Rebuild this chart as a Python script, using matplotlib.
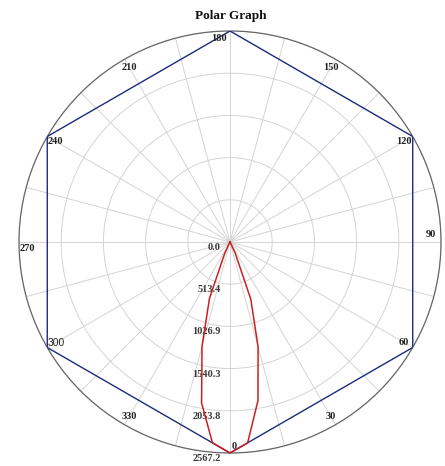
import numpy as np
import matplotlib.pyplot as plt

# luminous intensity values (cd)
beam_angle = [-35, -30, -25, -20, -15, -10, -5, 0, 5, 10, 15, 20, 25, 30, 35]
beam_cd = [0, 15, 150, 730, 1315, 1990, 2452, 2567.2, 2455, 1960, 1320, 740, 150, 15, 0]

hex_angle = [0, 60, 120, 180, 240, 300, 360]
hex_cd = [2567.2, 2567.2, 2567.2, 2567.2, 2567.2, 2567.2, 2567.2]

ring_vals = [0.0, 513.4, 1026.9, 1540.3, 2053.8, 2567.2]
ring_labels = ["0.0", "513.4", "1026.9", "1540.3", "2053.8", "2567.2"]
angle_ticks = [0, 30, 60, 90, 120, 150, 180, 210, 240, 270, 300, 330]
angle_labels = ["0", "30", "60", "90", "120", "150", "180", "210", "240", "270", "300", "330"]

rmax = ring_vals[-1]

fig = plt.figure(figsize=(4.45, 4.66), dpi=100)
ax = fig.add_axes([0.0427, 0.0279, 0.9483, 0.9056], projection='polar')
ax.set_theta_zero_location('S')
ax.set_theta_direction(1)
ax.set_ylim(0, rmax)

ax.set_thetagrids(np.arange(0, 360, 15), labels=[])
ax.set_rgrids(ring_vals[1:], labels=[])
ax.grid(True, color='#d4d4d4', lw=0.7)
ax.spines['polar'].set_color('#666666')
ax.spines['polar'].set_linewidth(0.9)

ax.plot(np.radians(hex_angle), hex_cd, color='#1c2a7c', lw=1.0, zorder=3)
ax.plot(np.radians(beam_angle), beam_cd, color='#cc2020', lw=1.1, zorder=4)

lab_font = dict(family='Liberation Serif', fontsize=7.5, fontweight='bold', color='#222222')

# ring values along the 0 degree direction
for v, s in zip(ring_vals, ring_labels):
    ax.annotate(s, xy=(0, v), xytext=(-6.5, -4.0), textcoords='offset points',
                ha='right', va='center', color='#3a3a3a',
                family='Liberation Serif', fontsize=7.5, fontweight='bold')

# angle labels, small nudges in pixels
nudge = {0: (4, -3), 90: (0, 7), 180: (-11.5, 2.5), 270: (-2, -7)}
px = 72 / 100
for a, s in zip(angle_ticks, angle_labels):
    dx, dy = nudge.get(a, (0, 0))
    if s == "300":
        ax.annotate(s, xy=(np.radians(a), 0.953 * rmax), xytext=(dx * px, dy * px),
                    textcoords='offset points', ha='center', va='center',
                    family='Liberation Sans', fontsize=7.5, color='#222222')
    else:
        ax.annotate(s, xy=(np.radians(a), 0.953 * rmax), xytext=(dx * px, dy * px),
                    textcoords='offset points', ha='center', va='center', **lab_font)

fig.text(0.519, 1 - 16 / 466, 'Polar Graph', ha='center', va='center',
         family='Liberation Serif', fontsize=9.5, fontweight='bold', color='#111111')

fig.savefig('out.png', dpi=100)
